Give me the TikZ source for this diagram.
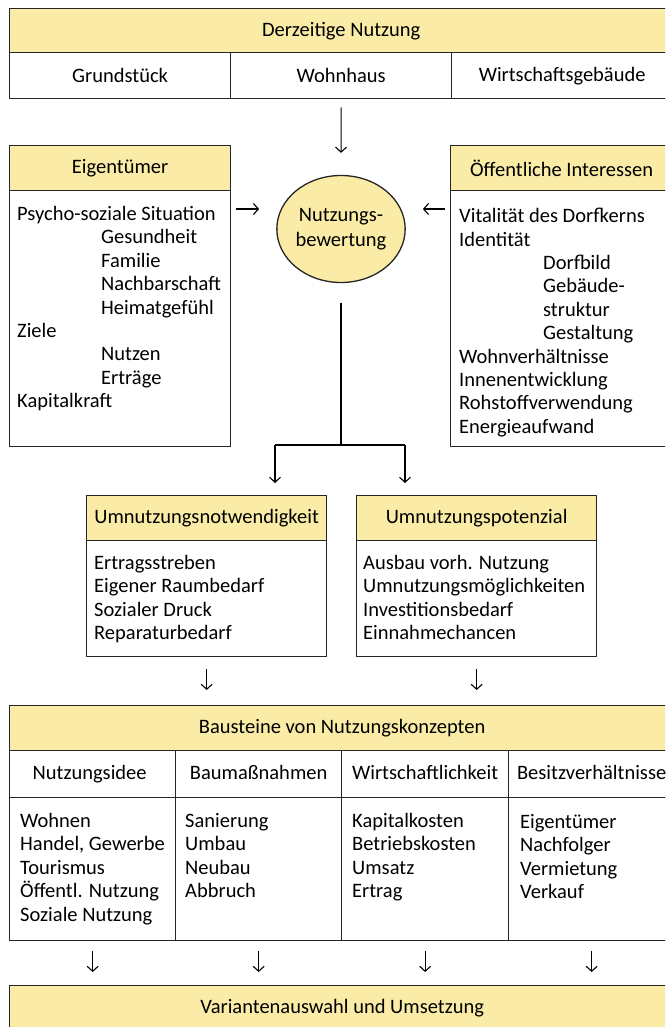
\documentclass[tikz,border=0pt]{standalone}
\usepackage{fontspec}
\setmainfont{Carlito}
\usetikzlibrary{positioning,shapes.geometric,arrows.meta}
\definecolor{kopfgelb}{RGB}{250,236,166}
\newcommand\einr{\hspace*{84pt}}
\tikzset{
  kasten/.style={draw=black!85,line width=1.3pt,anchor=north west,inner sep=0pt,
    font=\fontsize{20.5}{23.4}\selectfont},
  kopf/.style={kasten,fill=kopfgelb,minimum height=45},
  zelle/.style={kasten,fill=white},
  spalte/.style={zelle,minimum height=47,text height=15,text depth=5},
  liste/.style={anchor=north west,inner sep=0pt,align=left,
    font=\fontsize{20.5}{23.4}\selectfont},
  pfeil/.style={-{Straight Barb[length=5pt,width=11pt]},line width=1.1pt},
}
\begin{document}
\begin{tikzpicture}[x=1pt,y=-1pt,line join=round]
\clip (0,0) rectangle (665,1027);
\fill[white] (0,0) rectangle (665,1027);
% derzeitige Nutzung
\node[kopf,minimum width=663] (nutzKopf) at (9,8) {Derzeitige Nutzung};
\node[zelle,minimum width=221,minimum height=46] (grund) at (9,52) {Grundstück};
\node[zelle,minimum width=221,minimum height=46] (wohn) at (230,52) {Wohnhaus};
\node[zelle,minimum width=221,minimum height=46] (wirt) at (451,52) {Wirtschaftsgebäude};
% Eigentuemer
\node[kopf,minimum width=221] (eigKopf) at (9,145) {Eigentümer};
\node[zelle,minimum width=221,minimum height=256] (eigBody) at (9,190) {};
\node[liste] (eigTxt) at ([xshift=8,yshift=-16]eigBody.north west)
  {Psycho-soziale Situation\\ \einr Gesundheit\\ \einr Familie\\ \einr Nachbarschaft\\
   \einr Heimatgefühl\\ Ziele\\ \einr Nutzen\\ \einr Erträge\\ Kapitalkraft};
% oeffentliche Interessen
\node[kopf,minimum width=222] (oefKopf) at (450,145) {Öffentliche Interessen};
\node[zelle,minimum width=222,minimum height=256] (oefBody) at (450,190) {};
\node[liste] (oefTxt) at ([xshift=9,yshift=-18]oefBody.north west)
  {Vitalität des Dorfkerns\\ Identität\\ \einr Dorfbild\\ \einr Gebäude-\\ \einr struktur\\
   \einr Gestaltung\\ Wohnverhältnisse\\ Innenentwicklung\\ Rohstoffverwendung\\ Energieaufwand};
% Bewertung
\node[ellipse,draw=black!85,line width=1.3pt,fill=kopfgelb,minimum width=124,minimum height=107,
  align=center,inner sep=0pt,font=\fontsize{20.5}{25}\selectfont] (bew) at (341,229) {Nutzungs-\\bewertung};
\draw[pfeil,shorten <=8,shorten >=22] (wohn.south) -- (bew.north);
\draw[pfeil,shorten <=5,shorten >=17] ([yshift=-19]eigBody.north east) -- ([yshift=-19]eigBody.north east -| bew.west);
\draw[pfeil,shorten <=5,shorten >=17] ([yshift=-19]oefBody.north west) -- ([yshift=-19]oefBody.north west -| bew.east);
% Umnutzung
\node[kopf,minimum width=240] (notKopf) at (86,495) {Umnutzungsnotwendigkeit};
\node[zelle,minimum width=240,minimum height=116] (notBody) at (86,540) {};
\node[liste] (notTxt) at ([xshift=8,yshift=-15]notBody.north west)
  {Ertragsstreben\\ Eigener Raumbedarf\\ Sozialer Druck\\ Reparaturbedarf};
\node[kopf,minimum width=240] (potKopf) at (356,495) {Umnutzungspotenzial};
\node[zelle,minimum width=240,minimum height=116] (potBody) at (356,540) {};
\node[liste] (potTxt) at ([xshift=7,yshift=-15]potBody.north west)
  {Ausbau vorh. Nutzung\\ Umnutzungsmöglichkeiten\\ Investitionsbedarf\\ Einnahmechancen};
\coordinate (teil) at (341,445);
\coordinate (teilL) at (275,445);
\coordinate (teilR) at (405,445);
\draw[line width=1.1pt,shorten <=20] (bew.south) -- (teil);
\draw[line width=1.1pt] (teilL) -- (teilR);
\draw[pfeil,shorten >=12] (teilL) -- (teilL |- notKopf.north);
\draw[pfeil,shorten >=12] (teilR) -- (teilR |- potKopf.north);
% Bausteine
\node[kopf,minimum width=665] (bauKopf) at (9,705) {Bausteine von Nutzungskonzepten};
\node[spalte,minimum width=166] (spIdee) at (9,750) {Nutzungsidee\hspace*{6pt}};
\node[spalte,minimum width=166] (spBau) at (175,750) {Baumaßnahmen};
\node[spalte,minimum width=167] (spWirt) at (341,750) {Wirtschaftlichkeit};
\node[spalte,minimum width=166] (spBesitz) at (508,750) {Besitzverhältnisse};
\node[zelle,minimum width=166,minimum height=143] (idee) at (9,797) {};
\node[zelle,minimum width=166,minimum height=143] (bau) at (175,797) {};
\node[zelle,minimum width=167,minimum height=143] (wirtk) at (341,797) {};
\node[zelle,minimum width=166,minimum height=143] (besitz) at (508,797) {};
\node[liste] (ideeTxt) at ([xshift=11,yshift=-16]idee.north west)
  {Wohnen\\ Handel, Gewerbe\\ Tourismus\\ Öffentl. Nutzung\\ Soziale Nutzung};
\node[liste] (bauTxt) at ([xshift=10,yshift=-16]bau.north west)
  {Sanierung\\ Umbau\\ Neubau\\ Abbruch};
\node[liste] (wirtTxt) at ([xshift=11,yshift=-16]wirtk.north west)
  {Kapitalkosten\\ Betriebskosten\\ Umsatz\\ Ertrag};
\node[liste] (besitzTxt) at ([xshift=12,yshift=-17]besitz.north west)
  {Eigentümer\\ Nachfolger\\ Vermietung\\ Verkauf};
\draw[pfeil,shorten <=12,shorten >=15] (notBody.south) -- (notBody.south |- bauKopf.north);
\draw[pfeil,shorten <=12,shorten >=15] (potBody.south) -- (potBody.south |- bauKopf.north);
% Umsetzung
\node[kopf,minimum width=665] (umsKopf) at (9,985) {Variantenauswahl und Umsetzung};
\foreach \sp in {idee,bau,wirtk,besitz}
  \draw[pfeil,shorten <=10,shorten >=13] (\sp.south) -- (\sp.south |- umsKopf.north);
\end{tikzpicture}
\end{document}
